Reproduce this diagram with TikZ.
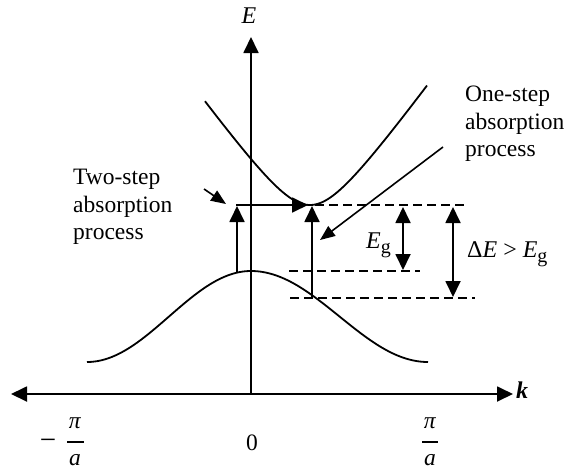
\documentclass[tikz,border=0pt]{standalone}
\usepackage{fontspec}
\setmainfont{Liberation Serif}
\usetikzlibrary{arrows.meta}
\begin{document}
\begin{tikzpicture}[x=1pt,y=-1pt,
  lbl/.style={font=\fontsize{23.5}{27.5}\selectfont, inner sep=0pt},
  sym/.style={font=\fontsize{24}{28}\selectfont, inner sep=0pt},
  ln/.style={line width=1.8pt},
  big/.style={ln,-{Triangle[length=16pt,width=15pt]}},
  bigboth/.style={ln,{Triangle[length=16pt,width=15pt]}-{Triangle[length=16pt,width=15pt]}},
  ptr/.style={line width=1.6pt,-{Triangle[length=15pt,width=12pt]}},
  dsh/.style={line width=1.6pt,dash pattern=on 9pt off 5pt},
  band/.style={line width=1.8pt}]
\useasboundingbox (0,0) rectangle (569,471);

% axes
\coordinate (Ebot) at (251,394);
\coordinate (Etop) at (251,37);
\draw[big] (Ebot) -- (Etop);
\node[sym,anchor=base] (E) at (249,23) {\textit{E}};
\coordinate (kL) at (11,394);
\coordinate (kR) at (513,394);
\draw[bigboth] (kL) -- (kR);
\node[sym,anchor=base west] (k) at (516,398) {\textbf{\textit{k}}};

% bands
\draw[band] plot[domain=87:251,samples=80] (\x,{271+45.5*(1-cos(1.09756*(\x-251)))});
\draw[band] plot[domain=251:428,samples=80] (\x,{271+45.5*(1-cos(1.01695*(\x-251)))});
\draw[band] plot[domain=205:427,samples=100] (\x,{205-48*(sqrt(1+((\x-310)/35)^2)-1)});

% two-step process
\coordinate (t0) at (237,272);
\coordinate (t1) at (237,206);
\coordinate (h0) at (236,205);
\coordinate (h1) at (308,205);
\draw[big] (t0) -- (t1);
\draw[big] (h0) -- (h1);
% one-step process
\coordinate (o0) at (312,298);
\coordinate (o1) at (312,206);
\draw[big] (o0) -- (o1);

% dashed levels
\coordinate (d1a) at (315,205); \coordinate (d1b) at (467,205);
\coordinate (d2a) at (289,271); \coordinate (d2b) at (420,271);
\coordinate (d3a) at (290,298); \coordinate (d3b) at (475,298);
\draw[dsh] (d1a) -- (d1b);
\draw[dsh] (d2a) -- (d2b);
\draw[dsh] (d3a) -- (d3b);

% gap arrows
\coordinate (g0) at (403,207); \coordinate (g1) at (403,270);
\draw[bigboth] (g0) -- (g1);
\coordinate (dE0) at (453,207); \coordinate (dE1) at (453,297);
\draw[bigboth] (dE0) -- (dE1);
\node[sym,anchor=base west] (Eg) at (366,248) {\textit{E}\raisebox{-5pt}{\fontsize{20}{20}\selectfont g}};
\node[sym,anchor=base west] (dE) at (467,257) {Δ\textit{E} > \textit{E}\raisebox{-5pt}{\fontsize{20}{20}\selectfont g}};

% text labels
\node[lbl,align=left,anchor=west] (two) at (73,207) {Two-step\\absorption\\process};
\node[lbl,align=left,anchor=west] (one) at (465,124) {One-step\\absorption\\process};
\coordinate (p2a) at (204,189); \coordinate (p2b) at (226,204);
\draw[ptr] (p2a) -- (p2b);
\coordinate (p1a) at (443,147); \coordinate (p1b) at (320,240);
\draw[ptr] (p1a) -- (p1b);

% tick labels
\node[lbl,anchor=base,font=\fontsize{29}{30}\selectfont] (minus) at (48,449) {−};
\node[lbl,anchor=base] (piL) at (75,428) {\textit{π}};
\node[lbl,anchor=base] (aL) at (75,465) {\textit{a}};
\coordinate (bL0) at (67,442); \coordinate (bL1) at (84,442);
\draw[ln] (bL0) -- (bL1);
\node[lbl,anchor=base] (zero) at (252,450) {0};
\node[lbl,anchor=base] (piR) at (430,428) {\textit{π}};
\node[lbl,anchor=base] (aR) at (430,465) {\textit{a}};
\coordinate (bR0) at (422,442); \coordinate (bR1) at (438,442);
\draw[ln] (bR0) -- (bR1);
\end{tikzpicture}
\end{document}
